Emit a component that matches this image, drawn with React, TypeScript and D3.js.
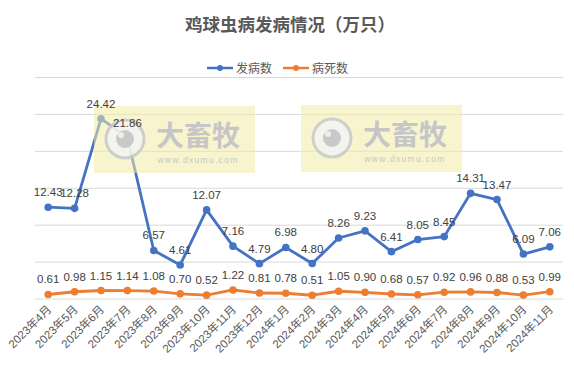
import * as d3 from "d3";

const months = [
  "2023年4月", "2023年5月", "2023年6月", "2023年7月", "2023年8月", "2023年9月",
  "2023年10月", "2023年11月", "2023年12月", "2024年1月", "2024年2月", "2024年3月",
  "2024年4月", "2024年5月", "2024年6月", "2024年7月", "2024年8月", "2024年9月",
  "2024年10月", "2024年11月",
];
const cases = [12.43, 12.28, 24.42, 21.86, 6.57, 4.61, 12.07, 7.16, 4.79, 6.98, 4.8, 8.26, 9.23, 6.41, 8.05, 8.45, 14.31, 13.47, 6.09, 7.06];
const deaths = [0.61, 0.98, 1.15, 1.14, 1.08, 0.7, 0.52, 1.22, 0.81, 0.78, 0.51, 1.05, 0.9, 0.68, 0.57, 0.92, 0.96, 0.88, 0.53, 0.99];
const yTicks = [0, 5, 10, 15, 20, 25, 30];

const width = 574;
const height = 368;
const left = 35;
const right = 563;
const top = 77.5;
const bottom = 299;

const BLUE = "#4472C4";
const ORANGE = "#ED7D31";
const numFont = "'Liberation Sans Narrow', 'Liberation Sans', sans-serif";
const cjkFont = "'Liberation Sans', 'Noto Sans CJK SC', sans-serif";

// semi-transparent site watermark sitting over the plot
function Watermark({ x, y }: { x: number; y: number }) {
  return (
    <g transform={`translate(${x},${y})`}>
      <rect x={0} y={0} width={161} height={67} fill="#F3EDA6" opacity={0.55} />
      <circle cx={31} cy={33} r={19} fill="#f4f4f4" stroke="#c9c9c9" strokeWidth={3} opacity={0.85} />
      <circle cx={31} cy={33} r={9} fill="#c4c4c4" opacity={0.9} />
      <circle cx={27} cy={29} r={3} fill="#eeeeee" />
      <text x={104} y={40} textAnchor="middle" fontSize={28} fontWeight="bold"
        fontFamily="'Noto Sans CJK SC', sans-serif" fill="#c6c6c6">大畜牧</text>
      <text x={104} y={57} textAnchor="middle" fontSize={8.5} letterSpacing={1.3}
        fontFamily="'Liberation Sans', sans-serif" fill="#c6c6c6">www.dxumu.com</text>
    </g>
  );
}

export default function App() {
  const x = d3.scalePoint<string>().domain(months).range([left, right]).padding(0.5);
  const y = d3.scaleLinear().domain([0, 30]).range([bottom, top]);
  const line = d3.line<number>((_, i) => x(months[i]) as number, (d) => y(d));

  const series = [
    { name: "发病数", data: cases, color: BLUE },
    { name: "病死数", data: deaths, color: ORANGE },
  ];

  return (
    <svg width={width} height={height} style={{ position: "absolute", left: 0, top: 0, background: "#fff" }}>
      <text x={290} y={31} textAnchor="middle" fontSize={17.5} fontWeight="bold"
        fontFamily="'Noto Sans CJK SC', sans-serif" fill="#595959">鸡球虫病发病情况（万只）</text>

      {/* legend */}
      {series.map((s, i) => {
        const lx = 207 + i * 76;
        return (
          <g key={s.name} transform={`translate(${lx},68)`}>
            <line x1={0} x2={26} y1={0} y2={0} stroke={s.color} strokeWidth={2.5} />
            <circle cx={13} cy={0} r={3} fill={s.color} />
            <text x={29} y={4.5} fontSize={12} fontFamily="'Noto Sans CJK SC', sans-serif" fill="#595959">{s.name}</text>
          </g>
        );
      })}

      {/* gridlines */}
      {yTicks.map((t) => (
        <line key={t} x1={left} x2={right} y1={y(t)} y2={y(t)} stroke="#d9d9d9" strokeWidth={1} />
      ))}

      {/* lines */}
      {series.map((s) => (
        <g key={s.name}>
          <path d={line(s.data) || undefined} fill="none" stroke={s.color} strokeWidth={2.8} strokeLinejoin="round" />
          {s.data.map((d, i) => (
            <circle key={i} cx={x(months[i])} cy={y(d)} r={3.8} fill={s.color} />
          ))}
        </g>
      ))}

      <Watermark x={94} y={106} />
      <Watermark x={301} y={105} />

      {/* data labels */}
      {series.map((s) => (
        <g key={s.name} fontSize={11.5} fontFamily={numFont} fill="#404040" textAnchor="middle">
          {s.data.map((d, i) => (
            <text key={i} x={x(months[i])} y={y(d) - 11}>{d.toFixed(2)}</text>
          ))}
        </g>
      ))}

      {/* x axis labels */}
      <g fontSize={11.5} fontFamily={cjkFont} fill="#595959" textAnchor="end">
        {months.map((m) => (
          <text key={m} transform={`translate(${(x(m) as number) + 4},${310}) rotate(-45)`}>{m}</text>
        ))}
      </g>
    </svg>
  );
}
